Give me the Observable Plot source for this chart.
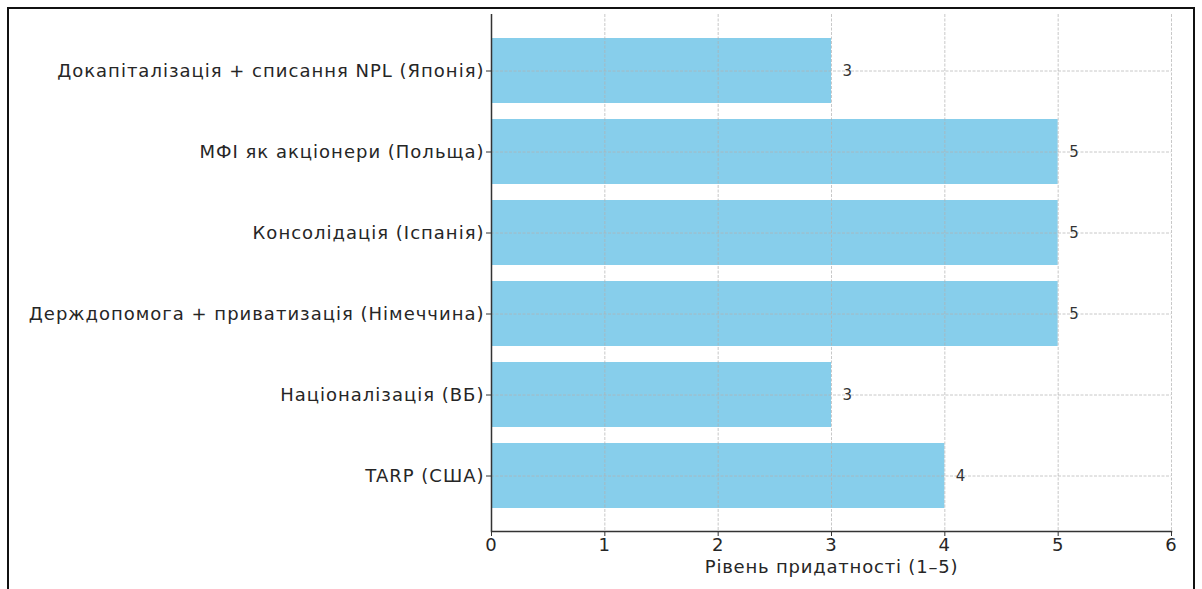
<!DOCTYPE html>
<html>
<head>
<meta charset="utf-8">
<script src="https://cdn.jsdelivr.net/npm/d3@7"></script>
<script src="https://cdn.jsdelivr.net/npm/@observablehq/plot@0.6"></script>
<style>
  html, body { margin: 0; padding: 0; background: #fff; overflow: hidden; }
  #wrap { position: relative; width: 1202px; height: 589px; }
  #border {
    position: absolute; left: 7px; top: 7px; width: 1188px; height: 600px;
    border: 2px solid #111; box-sizing: border-box; pointer-events: none;
  }
  #chart { position: absolute; left: 0; top: 0; }
  #chart svg text { letter-spacing: 1px; }
  #chart svg g[aria-label="x-axis label"] text { letter-spacing: 0.8px; }
</style>
</head>
<body>
<div id="wrap">
  <div id="chart"></div>
  <div id="border"></div>
</div>
<script>
// Bank rescue approaches, listed top to bottom
const approaches = [
  "Докапіталізація + списання NPL (Японія)",
  "МФІ як акціонери (Польща)",
  "Консолідація (Іспанія)",
  "Держдопомога + приватизація (Німеччина)",
  "Націоналізація (ВБ)",
  "TARP (США)"
];
// Suitability score (1–5) for each approach
const scores = [3, 5, 5, 5, 3, 4];
const xTicks = [0, 1, 2, 3, 4, 5, 6];
const xLabel = "Рівень придатності (1–5)";

const rows = approaches.map((name, i) => ({name, score: scores[i]}));
const font = "DejaVu Sans, sans-serif";
const ink = "#262626";

const chart = Plot.plot({
  width: 1202,
  height: 589,
  marginLeft: 491,
  marginRight: 31,
  marginTop: 14,
  marginBottom: 58,
  style: {fontFamily: font, background: "#fff", color: ink},
  x: {domain: [0, 6], ticks: xTicks},
  y: {domain: approaches, paddingInner: 0.2, paddingOuter: 0.29},
  marks: [
    Plot.barX(rows, {x: "score", y: "name", fill: "#87CEEB"}),
    Plot.gridX(xTicks, {stroke: "#b0b0b0", strokeOpacity: 0.7, strokeDasharray: "3,1.5"}),
    Plot.gridY(approaches, {stroke: "#b0b0b0", strokeOpacity: 0.7, strokeDasharray: "3,1.5"}),
    Plot.text(rows, {
      x: "score", y: "name", text: d => String(d.score),
      dx: 11, textAnchor: "start", fontSize: 15, fill: "#333"
    }),
    Plot.axisX({
      ticks: xTicks, tickSize: 5, tickPadding: 2, fontSize: 18,
      tickFormat: d => String(d), stroke: "#333",
      label: xLabel, labelAnchor: "center", labelArrow: "none", labelOffset: 41
    }),
    Plot.axisY({tickSize: 5, tickPadding: 2, fontSize: 18, stroke: "#333", label: null}),
    Plot.ruleX([0], {stroke: "#333", strokeWidth: 1.5}),
    Plot.frame({anchor: "bottom", stroke: "#333", strokeWidth: 1.5})
  ]
});
document.getElementById("chart").appendChild(chart);
</script>
</body>
</html>
